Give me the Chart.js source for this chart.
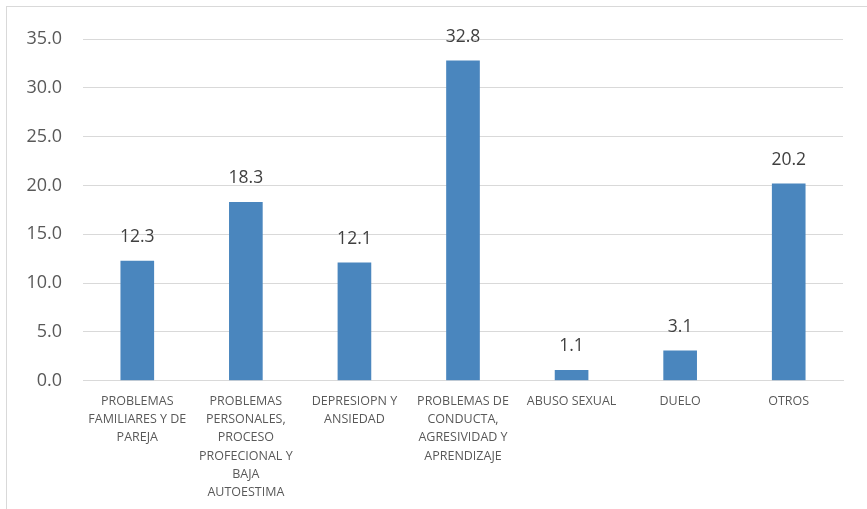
<!DOCTYPE html>
<html>
<head>
<meta charset="utf-8">
<script src="https://cdn.jsdelivr.net/npm/chart.js@4/dist/chart.umd.min.js"></script>
<style>
  body { margin: 0; background: #fff; }
  #wrap { position: absolute; left: 0; top: 0; width: 867px; height: 509px; }
  #frame { position: absolute; left: 6px; top: 6px; width: 880px; height: 520px; border: 1px solid #d9d9d9; }
</style>
</head>
<body>
<div id="frame"></div>
<div id="wrap"><canvas id="bar-chart"></canvas></div>
<script>
// categorias (etiquetas en varias lineas)
var categorias = [
    ['PROBLEMAS', 'FAMILIARES Y DE', 'PAREJA'],
    ['PROBLEMAS', 'PERSONALES,', 'PROCESO', 'PROFECIONAL Y', 'BAJA', 'AUTOESTIMA'],
    ['DEPRESIOPN Y', 'ANSIEDAD'],
    ['PROBLEMAS DE', 'CONDUCTA,', 'AGRESIVIDAD Y', 'APRENDIZAJE'],
    ['ABUSO SEXUAL'],
    ['DUELO'],
    ['OTROS']
];
var porcentajes = [12.3, 18.3, 12.1, 32.8, 1.1, 3.1, 20.2];
var ejeY = {min: 0, max: 35, paso: 5};

// etiquetas de valor encima de cada barra
var etiquetas = {
    id: 'etiquetas',
    afterDatasetsDraw: function(chart) {
        var ctx = chart.ctx;
        var meta = chart.getDatasetMeta(0);
        ctx.save();
        ctx.font = '17.5px "Open Sans"';
        ctx.fillStyle = '#404040';
        ctx.textAlign = 'center';
        ctx.textBaseline = 'bottom';
        meta.data.forEach(function(bar, i) {
            ctx.fillText(porcentajes[i].toFixed(1), bar.x, bar.y - 15);
        });
        ctx.restore();
    }
};

new Chart(document.getElementById('bar-chart'), {
    type: 'bar',
    data: {
        labels: categorias,
        datasets: [{
            data: porcentajes,
            backgroundColor: '#4a86be',
            borderWidth: 0,
            barPercentage: 0.31,
            categoryPercentage: 1
        }]
    },
    options: {
        responsive: true,
        maintainAspectRatio: false,
        animation: false,
        layout: {padding: {top: 39, right: 24, bottom: -4, left: 0}},
        plugins: {legend: {display: false}, tooltip: {enabled: false}},
        scales: {
            x: {
                grid: {display: false, drawTicks: false},
                border: {color: '#d9d9d9', width: 1},
                ticks: {
                    color: '#595959',
                    font: {family: 'Open Sans', size: 12.5, lineHeight: 1.47},
                    padding: 11,
                    maxRotation: 0,
                    autoSkip: false
                }
            },
            y: {
                min: ejeY.min,
                max: ejeY.max,
                afterFit: function(scale) { scale.width = 83; },
                grid: {color: '#d9d9d9', drawTicks: false},
                border: {display: false},
                ticks: {
                    stepSize: ejeY.paso,
                    color: '#595959',
                    font: {family: 'Open Sans', size: 18},
                    padding: 21,
                    callback: function(v) { return v.toFixed(1); }
                }
            }
        }
    },
    plugins: [etiquetas]
});
</script>
</body>
</html>
